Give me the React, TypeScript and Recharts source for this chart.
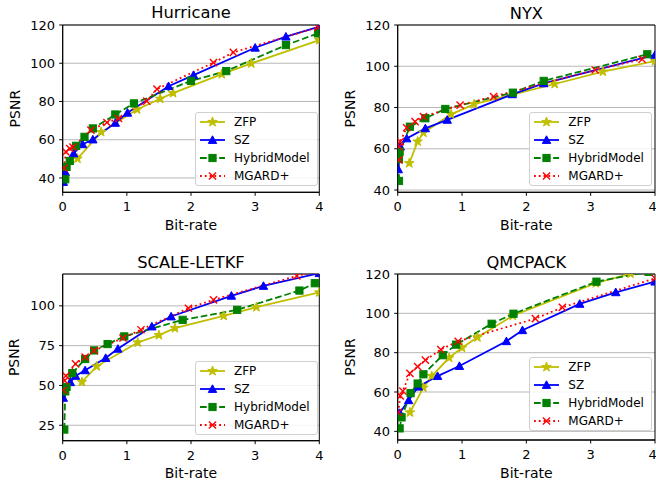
import React from 'react';
import { LineChart, Line, XAxis, YAxis, CartesianGrid, Legend, ReferenceArea } from 'recharts';

type Pt = [number, number];

// bit-rate, PSNR pairs
const hurricaneZFP: Pt[] = [[0.23, 50.1], [0.6, 64], [1.16, 75.8], [1.52, 81.4], [1.72, 84.4], [2.48, 94.3], [2.94, 99.9], [4.0, 112.1]];
const hurricaneSZ: Pt[] = [[0.01, 37.9], [0.04, 43.1], [0.17, 52.8], [0.31, 57.6], [0.47, 60.1], [0.82, 68.8], [1.01, 74.1], [1.65, 88], [2.04, 93.8], [3.0, 108.1], [3.48, 113.9], [4.0, 119.1]];
const hurricaneHybrid: Pt[] = [[0.04, 39.3], [0.06, 45.8], [0.11, 48.9], [0.21, 56.8], [0.34, 61.5], [0.47, 65.9], [0.82, 73.2], [1.11, 79], [2.0, 90.8], [2.55, 95.9], [3.48, 109.5], [3.98, 115.6]];
const hurricaneMGARD: Pt[] = [[0.02, 45.2], [0.05, 53.6], [0.11, 55.4], [0.16, 56.2], [0.44, 65], [0.69, 69], [0.87, 71.1], [1.31, 80.2], [1.47, 86.5], [2.35, 100.3], [2.66, 105.7], [3.98, 118.8]];

const nyxZFP: Pt[] = [[0.18, 53], [0.31, 63.5], [0.4, 67.8], [0.83, 76.7], [1.19, 81.6], [2.44, 91.4], [3.19, 97.4], [4.0, 102.5]];
const nyxSZ: Pt[] = [[0.01, 50], [0.04, 61], [0.14, 65], [0.43, 69.9], [0.77, 74], [1.78, 86.4], [2.27, 91.7], [4.0, 105.5]];
const nyxHybrid: Pt[] = [[0.02, 44.4], [0.02, 55], [0.03, 58.6], [0.19, 70.7], [0.43, 74.8], [0.74, 79.3], [1.79, 87.2], [2.27, 92.9], [3.88, 105.8]];
const nyxMGARD: Pt[] = [[0.02, 54.6], [0.02, 61], [0.04, 63.5], [0.14, 70.2], [0.27, 73.2], [0.4, 75.6], [0.97, 81.2], [1.49, 85.3], [3.07, 98.2], [3.8, 103.4]];

const scaleZFP: Pt[] = [[0.3, 52.2], [0.53, 62], [1.17, 77], [1.5, 81.6], [1.75, 86], [2.51, 93.7], [3.02, 99.2], [4.0, 108.4]];
const scaleSZ: Pt[] = [[0.01, 42.2], [0.12, 52], [0.2, 56], [0.35, 59.5], [0.67, 67.2], [0.86, 73], [1.39, 87], [1.69, 93.3], [2.63, 106.3], [3.13, 112.5], [4.0, 120.5]];
const scaleHybrid: Pt[] = [[0.025, 22.3], [0.04, 46.3], [0.06, 49.1], [0.15, 57.8], [0.35, 66.6], [0.49, 72], [0.7, 76], [0.96, 80.8], [1.87, 91.2], [2.72, 97.5], [3.69, 109.6], [3.93, 114.2]];
const scaleMGARD: Pt[] = [[0.01, 47], [0.03, 53], [0.05, 56], [0.2, 63.5], [0.35, 67.8], [0.49, 71.8], [0.94, 79.8], [1.22, 85], [1.96, 98.5], [2.35, 103.8], [3.65, 118.8], [4.0, 122]];

const qmcZFP: Pt[] = [[0.19, 49.6], [0.4, 62.2], [0.53, 68.1], [0.8, 77.4], [1.0, 82.5], [1.24, 87.8], [1.79, 98.8], [3.08, 115.3], [3.62, 120.2]];
const qmcSZ: Pt[] = [[0.01, 48.8], [0.03, 49.3], [0.17, 55.8], [0.32, 62.7], [0.62, 68.1], [0.96, 73.2], [1.69, 85.8], [1.94, 91.4], [2.83, 104.8], [3.39, 110.7], [4.0, 116.1]];
const qmcHybrid: Pt[] = [[0.03, 41.5], [0.06, 47.1], [0.2, 59.4], [0.31, 64.3], [0.4, 69], [0.7, 78.7], [0.91, 84.1], [1.46, 94.7], [1.8, 99.8], [3.09, 116.1], [3.9, 121.1]];
const qmcMGARD: Pt[] = [[0.01, 49.6], [0.04, 58], [0.08, 60.5], [0.19, 69.5], [0.31, 72.9], [0.43, 76.2], [0.67, 81.6], [0.94, 85.8], [2.14, 97.3], [2.56, 103], [4.0, 117.8]];

const xTicks = [0, 1, 2, 3, 4];
const psnrTicks = [40, 60, 80, 100, 120];
const scaleTicks = [25, 50, 75, 100];

const seriesNames = ['ZFP', 'SZ', 'HybridModel', 'MGARD+'];
const seriesColors = ['#bfbf00', '#0000ff', '#008000', '#ff0000'];
const seriesMarkers = ['star', 'triangle', 'square', 'x'];
const seriesDash = [undefined, undefined, '6.7 2.9', '1.8 3'];

const FONT = '"DejaVu Sans", sans-serif';

const Marker = ({ kind, cx, cy, color }: { kind: string; cx: number; cy: number; color: string }) => {
  if (cx == null || cy == null) return null;
  if (kind === 'star') {
    const pts: string[] = [];
    for (let i = 0; i < 10; i++) {
      const r = i % 2 === 0 ? 5 : 2;
      const a = -Math.PI / 2 + (i * Math.PI) / 5;
      pts.push(`${cx + r * Math.cos(a)},${cy + r * Math.sin(a)}`);
    }
    return <polygon points={pts.join(' ')} fill={color} stroke={color} strokeWidth={1} />;
  }
  if (kind === 'triangle') {
    return <polygon points={`${cx},${cy - 4.2} ${cx - 4.2},${cy + 3.4} ${cx + 4.2},${cy + 3.4}`} fill={color} stroke={color} strokeWidth={1} />;
  }
  if (kind === 'square') {
    return <rect x={cx - 3.6} y={cy - 3.6} width={7.2} height={7.2} fill={color} stroke={color} strokeWidth={1} />;
  }
  return (
    <g stroke={color} strokeWidth={1.4}>
      <line x1={cx - 3.6} y1={cy - 3.6} x2={cx + 3.6} y2={cy + 3.6} />
      <line x1={cx - 3.6} y1={cy + 3.6} x2={cx + 3.6} y2={cy - 3.6} />
    </g>
  );
};

const LegendBox = () => (
  <div style={{ width: 123, height: 74, boxSizing: 'border-box', border: '1px solid #d0d0d0', borderRadius: 3, background: 'rgba(255,255,255,0.85)', fontFamily: FONT }}>
    {seriesNames.map((name, i) => (
      <div key={name} style={{ height: 18, display: 'flex', alignItems: 'center' }}>
        <svg width={34} height={14} style={{ flex: 'none' }}>
          <line x1={4} x2={29} y1={7} y2={7} stroke={seriesColors[i]} strokeWidth={1.8} strokeDasharray={seriesDash[i]} />
          <Marker kind={seriesMarkers[i]} cx={16.5} cy={7} color={seriesColors[i]} />
        </svg>
        <span style={{ marginLeft: 4, fontSize: 12, color: '#000', lineHeight: '18px' }}>{name}</span>
      </div>
    ))}
  </div>
);

interface PanelProps {
  title: string;
  left: number;
  top: number;
  width: number;
  height: number;
  margin: { top: number; right: number; bottom: number; left: number };
  yAxisWidth: number;
  xAxisHeight: number;
  yDomain: [number, number];
  yTicks: number[];
  series: Pt[][];
  legendLeft: number;
  legendTop: number;
  titleOffset: number;
  psnrOffset: number;
  bitOffset: number;
}

const Panel = (p: PanelProps) => (
  <div style={{ position: 'absolute', left: p.left, top: p.top }}>
    <LineChart width={p.width} height={p.height} margin={p.margin} style={{ fontFamily: FONT }}>
      <CartesianGrid vertical={false} stroke="#b0b0b0" strokeWidth={0.9} />
      <XAxis
        type="number"
        dataKey="x"
        domain={[0, 4]}
        ticks={xTicks}
        allowDataOverflow
        height={p.xAxisHeight}
        stroke="#000"
        tickSize={3.5}
        tickMargin={6.4}
        tick={{ fill: '#000', fontSize: 13 }}
        label={{ value: 'Bit-rate', position: 'insideBottom', offset: p.bitOffset, fill: '#000', fontSize: 14 }}
      />
      <YAxis
        type="number"
        domain={p.yDomain}
        ticks={p.yTicks}
        allowDataOverflow
        width={p.yAxisWidth}
        stroke="#000"
        tickSize={3.5}
        tickMargin={4.2}
        tick={{ fill: '#000', fontSize: 13 }}
        label={{ value: 'PSNR', angle: -90, position: 'insideLeft', offset: p.psnrOffset, textAnchor: 'middle', fill: '#000', fontSize: 14 }}
      />
      {/* axes frame plus title */}
      <ReferenceArea
        x1={0}
        x2={4}
        y1={p.yDomain[0]}
        y2={p.yDomain[1]}
        fill="none"
        fillOpacity={0}
        stroke="#000"
        strokeWidth={1}
        ifOverflow="visible"
        label={{ value: p.title, position: 'top', offset: p.titleOffset, fill: '#000', fontSize: 16.3 }}
      />
      <Legend
        layout="horizontal"
        verticalAlign="middle"
        align="center"
        wrapperStyle={{ left: p.legendLeft, top: p.legendTop, width: 123, height: 74 }}
        content={() => <LegendBox />}
      />
      {p.series.map((pts, i) => (
        <Line
          key={seriesNames[i]}
          name={seriesNames[i]}
          data={pts.map(([x, y]) => ({ x, y }))}
          dataKey="y"
          type="linear"
          stroke={seriesColors[i]}
          strokeWidth={1.8}
          strokeDasharray={seriesDash[i]}
          dot={(d: any) => <Marker key={`${seriesNames[i]}-${d.index}`} kind={seriesMarkers[i]} cx={d.cx} cy={d.cy} color={seriesColors[i]} />}
          activeDot={false}
          isAnimationActive={false}
        />
      ))}
    </LineChart>
  </div>
);

export default function App() {
  return (
    <div style={{ position: 'absolute', left: 0, top: 0, width: 656, height: 485, overflow: 'hidden', background: '#fff', fontFamily: FONT }}>
      <Panel
        title="Hurricane"
        left={0}
        top={0}
        width={330}
        height={240}
        margin={{ top: 25, right: 10.7, bottom: 0, left: 5 }}
        yAxisWidth={57.7}
        xAxisHeight={47.7}
        yDomain={[32.5, 120]}
        yTicks={psnrTicks}
        series={[hurricaneZFP, hurricaneSZ, hurricaneHybrid, hurricaneMGARD]}
        legendLeft={195}
        legendTop={112}
        titleOffset={7.2}
        psnrOffset={10}
        bitOffset={10}
      />
      <Panel
        title="NYX"
        left={330}
        top={0}
        width={326}
        height={240}
        margin={{ top: 25, right: 1, bottom: 0, left: 6 }}
        yAxisWidth={61.7}
        xAxisHeight={47.7}
        yDomain={[38.9, 120]}
        yTicks={psnrTicks}
        series={[nyxZFP, nyxSZ, nyxHybrid, nyxMGARD]}
        legendLeft={199.3}
        legendTop={111.7}
        titleOffset={6.5}
        psnrOffset={14}
        bitOffset={10}
      />
      <Panel
        title="SCALE-LETKF"
        left={0}
        top={240}
        width={330}
        height={245}
        margin={{ top: 34, right: 10.7, bottom: 0, left: 5 }}
        yAxisWidth={57.7}
        xAxisHeight={44.3}
        yDomain={[15.3, 120]}
        yTicks={scaleTicks}
        series={[scaleZFP, scaleSZ, scaleHybrid, scaleMGARD]}
        legendLeft={195}
        legendTop={120.7}
        titleOffset={6.2}
        psnrOffset={9}
        bitOffset={6.6}
      />
      <Panel
        title="QMCPACK"
        left={330}
        top={240}
        width={326}
        height={245}
        margin={{ top: 34, right: 1, bottom: 0, left: 6 }}
        yAxisWidth={61.7}
        xAxisHeight={45}
        yDomain={[35.6, 120]}
        yTicks={psnrTicks}
        series={[qmcZFP, qmcSZ, qmcHybrid, qmcMGARD]}
        legendLeft={199.3}
        legendTop={116.7}
        titleOffset={6.2}
        psnrOffset={14}
        bitOffset={7.3}
      />
    </div>
  );
}
